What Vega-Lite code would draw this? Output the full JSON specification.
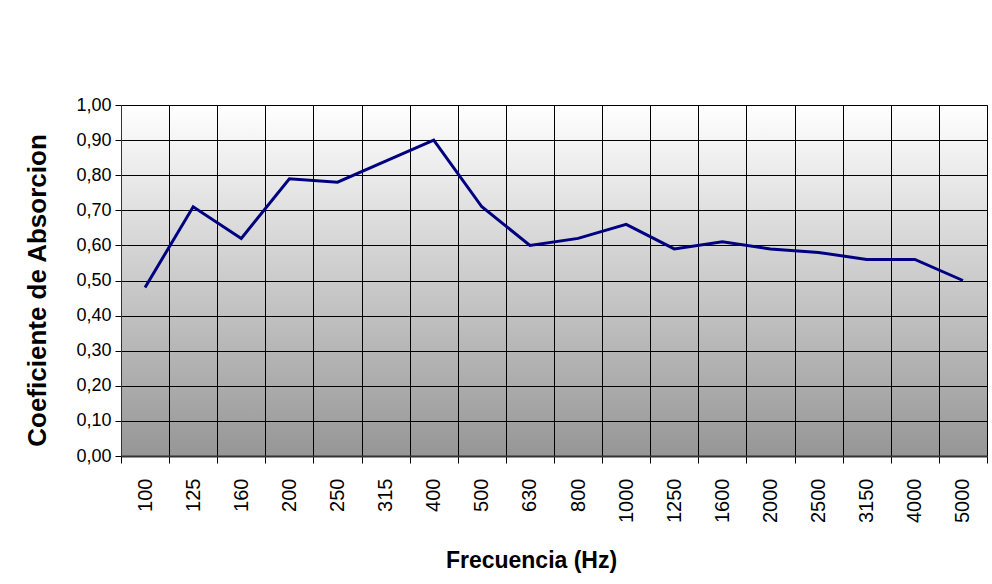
{
  "$schema": "https://vega.github.io/schema/vega-lite/v6.json",
  "width": 866,
  "height": 351,
  "autosize": "none",
  "padding": {"left": 121, "top": 105, "right": 5, "bottom": 128},
  "background": "white",
  "config": {
    "locale": {"number": {"decimal": ",", "thousands": ".", "grouping": [3], "currency": ["", " €"]}},
    "font": "Liberation Sans",
    "view": {
      "stroke": "#888888",
      "strokeWidth": 1,
      "fill": {"gradient": "linear", "x1": 0, "y1": 0, "x2": 0, "y2": 1, "stops": [{"offset": 0, "color": "#ffffff"}, {"offset": 1, "color": "#969696"}]}
    }
  },
  "data": {
    "values": [
      {"freq": "100", "coef": 0.48},
      {"freq": "125", "coef": 0.71},
      {"freq": "160", "coef": 0.62},
      {"freq": "200", "coef": 0.79},
      {"freq": "250", "coef": 0.78},
      {"freq": "315", "coef": 0.84},
      {"freq": "400", "coef": 0.90},
      {"freq": "500", "coef": 0.71},
      {"freq": "630", "coef": 0.60},
      {"freq": "800", "coef": 0.62},
      {"freq": "1000", "coef": 0.66},
      {"freq": "1250", "coef": 0.59},
      {"freq": "1600", "coef": 0.61},
      {"freq": "2000", "coef": 0.59},
      {"freq": "2500", "coef": 0.58},
      {"freq": "3150", "coef": 0.56},
      {"freq": "4000", "coef": 0.56},
      {"freq": "5000", "coef": 0.50}
    ]
  },
  "mark": {"type": "line", "color": "#000080", "strokeWidth": 3},
  "encoding": {
    "x": {
      "field": "freq",
      "type": "ordinal",
      "sort": null,
      "scale": {"type": "band", "paddingInner": 0, "paddingOuter": 0},
      "axis": {
        "title": "Frecuencia (Hz)",
        "tickBand": "extent",
        "labelAngle": -90,
        "labelFontSize": 20,
        "labelColor": "#000000",
        "labelPadding": 15,
        "tickSize": 7,
        "tickColor": "#000000",
        "domainColor": "#333333",
        "domainWidth": 2,
        "grid": true,
        "gridColor": "#000000",
        "gridOpacity": 1,
        "titleFontSize": 23,
        "titleFontWeight": "bold",
        "titleColor": "#000000",
        "titlePadding": 27,
        "titleX": 410
      }
    },
    "y": {
      "field": "coef",
      "type": "quantitative",
      "scale": {"domain": [0, 1], "nice": false},
      "axis": {
        "title": "Coeficiente de Absorcion",
        "values": [0, 0.1, 0.2, 0.3, 0.4, 0.5, 0.6, 0.7, 0.8, 0.9, 1.0],
        "format": ".2f",
        "labelFontSize": 18,
        "labelColor": "#000000",
        "labelPadding": 4,
        "tickSize": 6,
        "tickColor": "#000000",
        "domainColor": "#333333",
        "grid": true,
        "gridColor": "#000000",
        "gridOpacity": 1,
        "titleFontSize": 26,
        "titleFontWeight": "bold",
        "titleColor": "#000000",
        "titlePadding": 25,
        "titleY": 185
      }
    }
  }
}
